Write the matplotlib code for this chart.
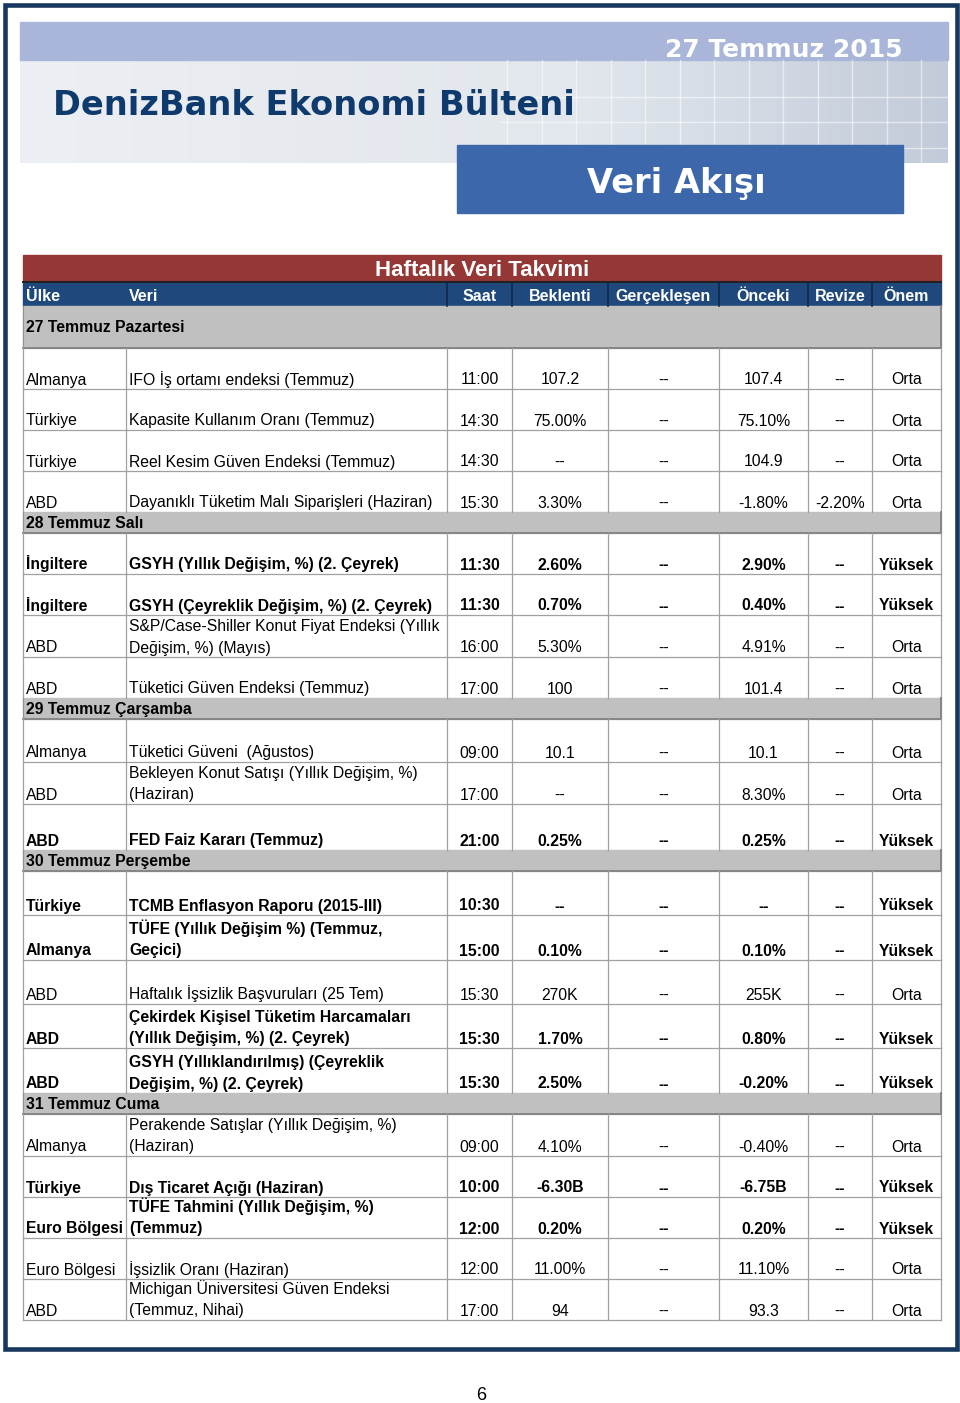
import numpy as np
import matplotlib
matplotlib.use("Agg")
import matplotlib.pyplot as plt
from matplotlib.patches import Rectangle

# --- data -------------------------------------------------------------
days = ["27 Temmuz Pazartesi", "28 Temmuz Salı", "29 Temmuz Çarşamba",
        "30 Temmuz Perşembe", "31 Temmuz Cuma"]
day_of_row = [0, 0, 0, 0, 1, 1, 1, 1, 2, 2, 2, 3, 3, 3, 3, 3, 4, 4, 4, 4, 4]

ulke = ["Almanya", "Türkiye", "Türkiye", "ABD",
        "İngiltere", "İngiltere", "ABD", "ABD",
        "Almanya", "ABD", "ABD",
        "Türkiye", "Almanya", "ABD", "ABD", "ABD",
        "Almanya", "Türkiye", "Euro Bölgesi", "Euro Bölgesi", "ABD"]
veri = ["IFO İş ortamı endeksi (Temmuz)",
        "Kapasite Kullanım Oranı (Temmuz)",
        "Reel Kesim Güven Endeksi (Temmuz)",
        "Dayanıklı Tüketim Malı Siparişleri (Haziran)",
        "GSYH (Yıllık Değişim, %) (2. Çeyrek)",
        "GSYH (Çeyreklik Değişim, %) (2. Çeyrek)",
        "S&P/Case-Shiller Konut Fiyat Endeksi (Yıllık\nDeğişim, %) (Mayıs)",
        "Tüketici Güven Endeksi (Temmuz)",
        "Tüketici Güveni  (Ağustos)",
        "Bekleyen Konut Satışı (Yıllık Değişim, %)\n(Haziran)",
        "FED Faiz Kararı (Temmuz)",
        "TCMB Enflasyon Raporu (2015-III)",
        "TÜFE (Yıllık Değişim %) (Temmuz,\nGeçici)",
        "Haftalık İşsizlik Başvuruları (25 Tem)",
        "Çekirdek Kişisel Tüketim Harcamaları\n(Yıllık Değişim, %) (2. Çeyrek)",
        "GSYH (Yıllıklandırılmış) (Çeyreklik\nDeğişim, %) (2. Çeyrek)",
        "Perakende Satışlar (Yıllık Değişim, %)\n(Haziran)",
        "Dış Ticaret Açığı (Haziran)",
        "TÜFE Tahmini (Yıllık Değişim, %)\n(Temmuz)",
        "İşsizlik Oranı (Haziran)",
        "Michigan Üniversitesi Güven Endeksi\n(Temmuz, Nihai)"]
saat = ["11:00", "14:30", "14:30", "15:30", "11:30", "11:30", "16:00", "17:00",
        "09:00", "17:00", "21:00", "10:30", "15:00", "15:30", "15:30", "15:30",
        "09:00", "10:00", "12:00", "12:00", "17:00"]
beklenti = ["107.2", "75.00%", "--", "3.30%", "2.60%", "0.70%", "5.30%", "100",
            "10.1", "--", "0.25%", "--", "0.10%", "270K", "1.70%", "2.50%",
            "4.10%", "-6.30B", "0.20%", "11.00%", "94"]
gerceklesen = ["--"] * 21
onceki = ["107.4", "75.10%", "104.9", "-1.80%", "2.90%", "0.40%", "4.91%", "101.4",
          "10.1", "8.30%", "0.25%", "--", "0.10%", "255K", "0.80%", "-0.20%",
          "-0.40%", "-6.75B", "0.20%", "11.10%", "93.3"]
revize = ["--", "--", "--", "-2.20%"] + ["--"] * 17
onem = ["Orta", "Orta", "Orta", "Orta", "Yüksek", "Yüksek", "Orta", "Orta",
        "Orta", "Orta", "Yüksek", "Yüksek", "Yüksek", "Orta", "Yüksek", "Yüksek",
        "Orta", "Yüksek", "Yüksek", "Orta", "Orta"]
kalin = [0, 0, 0, 0, 1, 1, 0, 0, 0, 0, 1, 1, 1, 0, 1, 1, 0, 1, 1, 0, 0]

basliklar = ["Ülke", "Veri", "Saat", "Beklenti", "Gerçekleşen", "Önceki", "Revize", "Önem"]

# --- layout (pixels) --------------------------------------------------
W, H = 960, 1403
col_x = [23, 126, 447, 512, 608, 719, 808, 872, 941]
day_h = [42, 21, 21, 21, 21]
row_h = [41, 41, 41, 41, 41, 41, 42, 41, 43, 42, 46,
         44, 45, 44, 44, 45, 42, 41, 41, 41, 41]
RED = "#953735"
BLUE = "#1F497D"
NAVY = "#17375E"
GRAY = "#C0C0C0"
LINE = "#A0A0A0"
FS = 11.3

plt.rcParams['font.family'] = ['Liberation Sans', 'DejaVu Sans']

fig = plt.figure(figsize=(W / 100, H / 100), dpi=100)
ax = fig.add_axes([0, 0, 1, 1])
ax.set_xlim(0, W)
ax.set_ylim(H, 0)
ax.axis("off")

# page frame
ax.add_patch(Rectangle((4.5, 5), 952, 1344, fill=False, ec=NAVY, lw=3.3, zorder=5))

# banner background
gx = np.linspace(0, 1, 400)
left = np.array([236, 239, 243]) / 255
mid = np.array([226, 231, 237]) / 255
right = np.array([194, 203, 217]) / 255
grad = np.where(gx[:, None] < 0.6,
                left + (mid - left) * (gx[:, None] / 0.6),
                mid + (right - mid) * ((gx[:, None] - 0.6) / 0.4))
ax.imshow(grad[None, :, :], extent=(20, 948, 163, 60), aspect="auto", zorder=1)
ax.add_patch(Rectangle((20, 22), 928, 38, color="#A9B6DA", zorder=2))
for gxv in np.arange(507, 945, 34.5):
    ax.plot([gxv, gxv], [60, 163], color="white", lw=1.0, alpha=0.55, zorder=2)
for gyv in [97, 122, 148]:
    ax.plot([500, 948], [gyv, gyv], color="white", lw=1.0, alpha=0.55, zorder=2)
ax.add_patch(Rectangle((457, 145), 446, 68, color="#3C67AA", zorder=3))

ax.text(903, 57, "27 Temmuz 2015", color="white", fontsize=18, fontweight="bold",
        family="DejaVu Sans", ha="right", va="baseline", zorder=4)
ax.text(53, 115, "DenizBank Ekonomi Bülteni", color="#0E3A6E", fontsize=24.2,
        fontweight="bold", family="DejaVu Sans", ha="left", va="baseline", zorder=4)
ax.text(587, 193, "Veri Akışı", color="white", fontsize=24.2, fontweight="bold",
        family="DejaVu Sans", ha="left", va="baseline", zorder=4)

# table title and header
x0, x1 = col_x[0], col_x[-1]
ax.add_patch(Rectangle((x0, 255), x1 - x0, 27, color=RED, zorder=2))
ax.text((x0 + x1) / 2, 276, "Haftalık Veri Takvimi", color="white", fontsize=16,
        fontweight="bold", ha="center", va="baseline", zorder=4)
ax.add_patch(Rectangle((x0, 282), x1 - x0, 24, color=BLUE, zorder=2))
ax.plot([x0, x1], [282, 282], color="#202020", lw=1.4, zorder=3)
for cx in col_x[2:-1]:
    ax.plot([cx, cx], [282, 306], color="#10284A", lw=1.2, zorder=3)
for i, b in enumerate(basliklar):
    if i < 2:
        ax.text(col_x[i] + 3, 301, b, color="white", fontsize=11.5, fontweight="bold",
                ha="left", va="baseline", zorder=4)
    else:
        ax.text((col_x[i] + col_x[i + 1]) / 2, 301, b, color="white", fontsize=11.5,
                fontweight="bold", ha="center", va="baseline", zorder=4)

# body
cols = [ulke, veri, saat, beklenti, gerceklesen, onceki, revize, onem]
y = 306
r = 0
for d, name in enumerate(days):
    h = day_h[d]
    ax.add_patch(Rectangle((x0, y), x1 - x0, h, color=GRAY, zorder=2))
    ax.plot([x0, x1, x1], [y + h, y + h, y], color="#808080", lw=1.3, zorder=3)
    ax.plot([x0, x0], [y, y + h], color="#909090", lw=0.8, zorder=3)
    ax.text(x0 + 3, y + h / 2 + 1, name, fontsize=FS, fontweight="bold",
            ha="left", va="center", zorder=4)
    y += h
    while r < len(ulke) and day_of_row[r] == d:
        h = row_h[r]
        for cx in col_x:
            ax.plot([cx, cx], [y, y + h], color=LINE, lw=0.9, zorder=3)
        if r + 1 < len(ulke) and day_of_row[r + 1] == d:
            ax.plot([x0, x1], [y + h, y + h], color=LINE, lw=0.9, zorder=3)
        elif r == len(ulke) - 1:
            ax.plot([x0, x1], [y + h, y + h], color=LINE, lw=0.9, zorder=3)
        fw = "bold" if kalin[r] else "normal"
        for c, col in enumerate(cols):
            lines = col[r].split("\n")
            for k, ln in enumerate(reversed(lines)):
                by = y + h - 4.5 - k * 21.5
                if c < 2:
                    ax.text(col_x[c] + 3, by, ln, fontsize=FS, fontweight=fw,
                            ha="left", va="baseline", zorder=4)
                else:
                    ax.text((col_x[c] + col_x[c + 1]) / 2, by, ln, fontsize=FS,
                            fontweight=fw, ha="center", va="baseline", zorder=4)
        y += h
        r += 1

# page number
ax.text(481, 1400, "6", fontsize=13, ha="center", va="baseline")

fig.savefig("out.png", dpi=100)
